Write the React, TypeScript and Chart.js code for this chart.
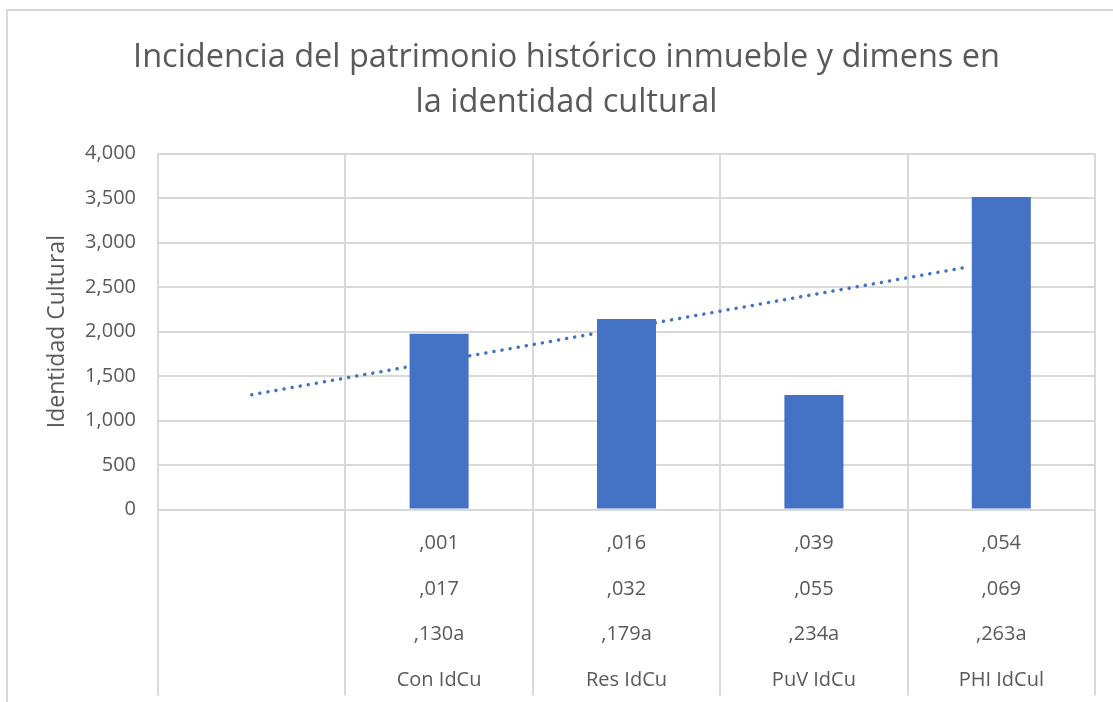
import React, { useEffect, useRef } from 'react';
import { Chart, registerables } from 'chart.js';

Chart.register(...registerables);

// ---- data ----
const titleLines = ['Incidencia del patrimonio histórico inmueble y dimens en', 'la identidad cultural'];
const yAxisTitle = 'Identidad Cultural';
const row1 = ['', ',001', ',016', ',039', ',054'];
const row2 = ['', ',017', ',032', ',055', ',069'];
const row3 = ['', ',130a', ',179a', ',234a', ',263a'];
const groupNames = ['', 'Con IdCu', 'Res IdCu', 'PuV IdCu', 'PHI IdCul'];
const barValues: (number | null)[] = [null, 1975, 2143, 1288, 3513];
const trendX = [0, 3.8];
const trendY = [1290, 2718];
const yTickLabels = ['0', '500', '1,000', '1,500', '2,000', '2,500', '3,000', '3,500', '4,000'];

const W = 1113;
const H = 702;
const GRID = '#d9d9d9';
const TEXT = '#595959';
const BLUE = '#4472C4';

const borderPlugin = {
  id: 'outerBorder',
  beforeDraw(chart: any) {
    const ctx = chart.ctx;
    ctx.save();
    ctx.fillStyle = '#ffffff';
    ctx.fillRect(0, 0, chart.width, chart.height);
    ctx.strokeStyle = GRID;
    ctx.lineWidth = 2;
    ctx.strokeRect(7, 10, chart.width + 50, chart.height + 50);
    ctx.restore();
  },
};

export default function App() {
  const ref = useRef<HTMLCanvasElement | null>(null);

  useEffect(() => {
    if (!ref.current) return;
    const labels = groupNames.map((g, i) => [row1[i], row2[i], row3[i], g]);
    const chart = new Chart(ref.current, {
      type: 'bar',
      data: {
        labels,
        datasets: [
          {
            type: 'bar',
            data: barValues as any,
            backgroundColor: BLUE,
            barPercentage: 0.315,
            categoryPercentage: 1,
            grouped: false,
            order: 0,
            xAxisID: 'x',
          } as any,
          {
            type: 'line',
            data: trendX.map((x, i) => ({ x, y: trendY[i] })) as any,
            borderColor: BLUE,
            borderWidth: 3.5,
            borderDash: [0.1, 8.1],
            borderCapStyle: 'round',
            pointRadius: 0,
            fill: false,
            order: 1,
            xAxisID: 'x2',
          } as any,
        ],
      },
      options: {
        responsive: false,
        animation: false,
        layout: { padding: { left: 38, right: 18, top: 0, bottom: 0 } },
        plugins: {
          legend: { display: false },
          tooltip: { enabled: false },
          title: {
            display: true,
            text: titleLines,
            color: TEXT,
            font: { family: 'Open Sans', size: 32.5, weight: 'normal', lineHeight: 1.38 },
            padding: { top: 35, bottom: 29 },
          },
        },
        scales: {
          x: {
            type: 'category',
            offset: true,
            grid: {
              color: GRID,
              lineWidth: 2,
              offset: true,
              drawTicks: true,
              tickLength: 186,
            },
            border: { display: true, color: GRID, width: 2 },
            ticks: {
              color: TEXT,
              font: { family: 'Open Sans', size: 20, lineHeight: 2.29 },
              padding: -175.4,
              autoSkip: false,
              maxRotation: 0,
              minRotation: 0,
            },
            afterFit(scale: any) {
              scale.height = 192.5;
            },
          },
          x2: {
            type: 'linear',
            display: false,
            offset: false,
            min: -0.5,
            max: 4.5,
          },
          y: {
            min: 0,
            max: 4000,
            grid: { color: GRID, lineWidth: 2, drawTicks: false },
            border: { display: true, color: GRID, width: 2 },
            ticks: {
              stepSize: 500,
              color: TEXT,
              padding: 22,
              font: { family: 'Open Sans', size: 20 },
              callback: (_v: any, i: number) => yTickLabels[i],
            },
            title: {
              display: true,
              text: yAxisTitle,
              color: TEXT,
              font: { family: 'Open Sans', size: 23 },
              padding: { top: 5.7, bottom: 0 },
            },
            afterFit(scale: any) {
              scale.width = 120;
            },
          },
        },
      },
      plugins: [borderPlugin],
    });
    return () => chart.destroy();
  }, []);

  return (
    <div style={{ position: 'absolute', left: 0, top: 0, width: W, height: H }}>
      <canvas ref={ref} width={W} height={H} style={{ display: 'block' }} />
    </div>
  );
}
